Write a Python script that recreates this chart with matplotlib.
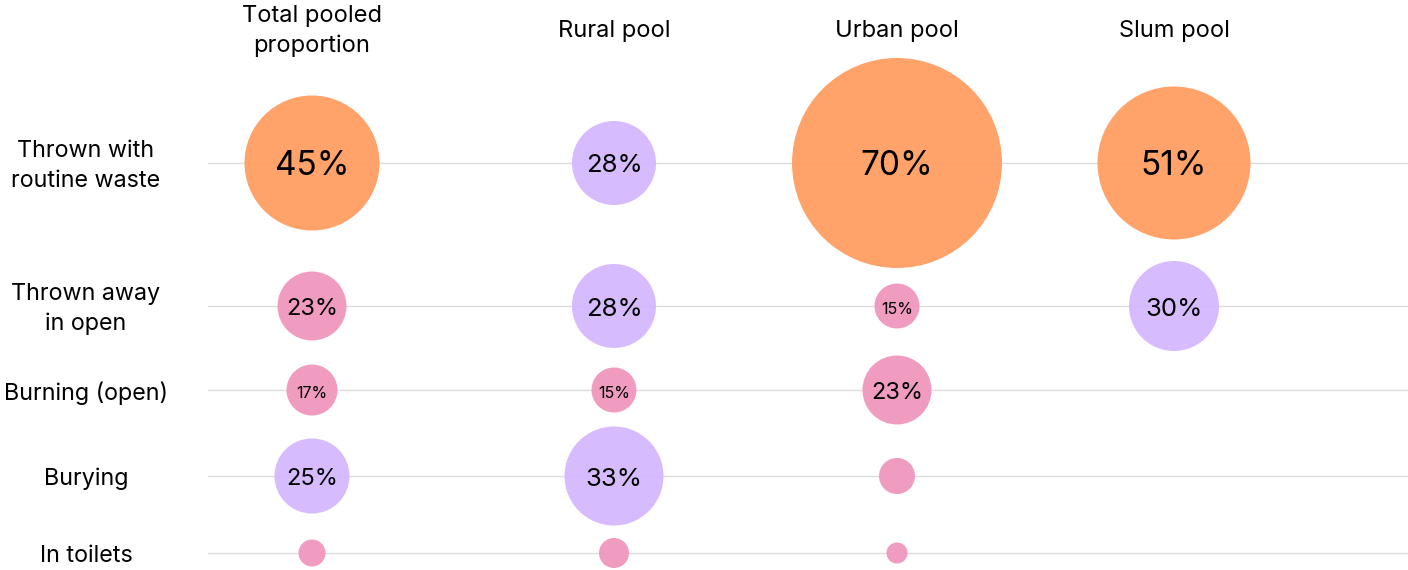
import matplotlib
matplotlib.use("Agg")
import matplotlib.pyplot as plt
from matplotlib.patches import Circle

plt.rcParams["font.family"] = ["Inter", "DejaVu Sans"]

# data: share of households (%) per disposal method and pool
pools = ["Total pooled\nproportion", "Rural pool", "Urban pool", "Slum pool"]
methods = ["Thrown with\nroutine waste", "Thrown away\nin open", "Burning (open)", "Burying", "In toilets"]
total_pooled = [45, 23, 17, 25, 9]
rural_pool = [28, 28, 15, 33, 10]
urban_pool = [70, 15, 23, 12, 7]
slum_pool = [51, 30, None, None, None]
series = [total_pooled, rural_pool, urban_pool, slum_pool]

# layout (pixel space of a 1408x570 canvas)
W, H = 1408, 570
col_x = [312, 614, 897, 1174]
row_y = [163, 306, 390, 476, 553]
label_x = 86
header_y = 31
grid_x0 = 208
r_per_pct = 1.5

ORANGE = "#FF9E63"
PURPLE = "#D4B8FF"
PINK = "#F096BD"


def colour(v):
    if v >= 40:
        return ORANGE
    if v >= 25:
        return PURPLE
    return PINK


def label_size(v):
    if v >= 40:
        return 24
    if v >= 27:
        return 18.5
    if v >= 20:
        return 17
    if v >= 13:
        return 11.5
    return None


fig = plt.figure(figsize=(W / 100, H / 100), dpi=100)
ax = fig.add_axes([0, 0, 1, 1])
ax.set_xlim(0, W)
ax.set_ylim(H, 0)
ax.set_aspect("equal")
ax.axis("off")

for y in row_y:
    ax.plot([grid_x0, W], [y, y], color="#DCDCDC", lw=1.0, zorder=1)

for x, name in zip(col_x, pools):
    ax.text(x, header_y, name, ha="center", va="center", fontsize=17,
            linespacing=1.45, color="black")

for y, name in zip(row_y, methods):
    ax.text(label_x, y + 3, name, ha="center", va="center", fontsize=16.8,
            linespacing=1.45, color="black")

for x, vals in zip(col_x, series):
    for y, v in zip(row_y, vals):
        if v is None:
            continue
        ax.add_patch(Circle((x, y), v * r_per_pct, facecolor=colour(v),
                            edgecolor="none", alpha=0.95, zorder=2))
        fs = label_size(v)
        if fs:
            ax.text(x, y + 3, f"{v}%", ha="center", va="center", fontsize=fs,
                    color="black", zorder=3)

plt.savefig("out.png", dpi=100)
